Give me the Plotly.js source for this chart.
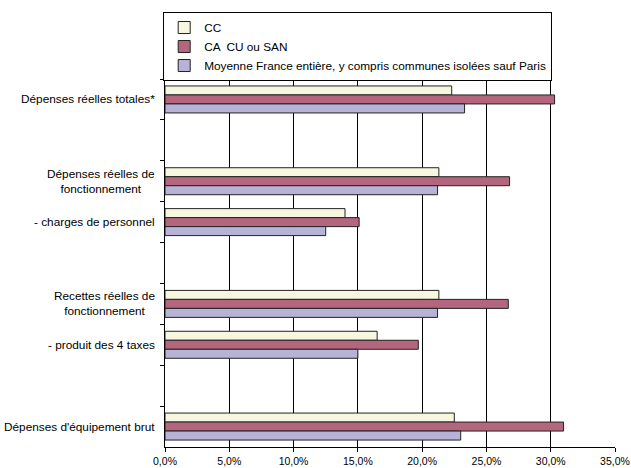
<!DOCTYPE html>
<html>
<head>
<meta charset="utf-8">
<script src="https://cdn.plot.ly/plotly-3.0.1.min.js"></script>
<style>html,body{margin:0;padding:0;background:#fff;}#chart{width:631px;height:468px;}</style>
</head>
<body>
<div id="chart"></div>
<script>
const categories = [
  "Dépenses réelles totales*",
  " ",
  "Dépenses réelles de<br>fonctionnement",
  "- charges de personnel",
  "  ",
  "Recettes réelles de<br>fonctionnement",
  "- produit des 4 taxes",
  "   ",
  "Dépenses d'équipement brut"
];
const seriesNames = ["CC", "CA  CU ou SAN", "Moyenne France entière, y compris communes isolées sauf Paris"];
const valuesCC  = [0.223, null, 0.213, 0.140, null, 0.213, 0.165, null, 0.225];
const valuesCA  = [0.303, null, 0.268, 0.151, null, 0.267, 0.197, null, 0.310];
const valuesMoy = [0.233, null, 0.212, 0.125, null, 0.212, 0.150, null, 0.230];
const xTickValues = [0, 0.05, 0.10, 0.15, 0.20, 0.25, 0.30, 0.35];

const colors = ["#F7F7E1", "#B4667E", "#B7B3D6"];
const seriesValues = [valuesCC, valuesCA, valuesMoy];
const FONT = "'Liberation Sans', Arial, sans-serif";

const traces = seriesValues.map((vals, i) => ({
  type: "bar",
  orientation: "h",
  name: seriesNames[i],
  y: categories,
  x: vals,
  marker: {color: colors[i], line: {color: "#222", width: 1}},
  hoverinfo: "x+name"
}));

const annotations = categories.filter(c => c.trim() !== "").map(c => ({
  xref: "paper", yref: "y", x: 0, y: c,
  xanchor: "right", yanchor: "middle", xshift: -8,
  align: "center", showarrow: false, text: c,
  font: {family: FONT, size: 11.8, color: "#000"}
}));

const layout = {
  width: 631, height: 468,
  margin: {l: 165, r: 16, t: 79, b: 21, autoexpand: false},
  paper_bgcolor: "#fff", plot_bgcolor: "#fff",
  font: {family: FONT, size: 11.8, color: "#000"},
  separators: ", ",
  barmode: "group",
  bargap: 0.34,
  bargroupgap: 0,
  showlegend: true,
  legend: {
    x: -0.004, xanchor: "left", y: 1.182, yanchor: "top",
    bgcolor: "#fff", bordercolor: "#000", borderwidth: 1,
    font: {family: FONT, size: 11.8, color: "#000"},
    traceorder: "normal"
  },
  xaxis: {
    range: [0, 0.35], tickvals: xTickValues, tickformat: ".1%",
    showgrid: true, gridcolor: "#000", gridwidth: 1,
    showline: true, linecolor: "#000", linewidth: 1,
    ticks: "outside", ticklen: 4, tickcolor: "#000",
    tickfont: {family: FONT, size: 10.5, color: "#000"},
    ticklabeloverflow: "allow",
    zeroline: false, automargin: false, fixedrange: true
  },
  yaxis: {
    type: "category", categoryorder: "array", categoryarray: categories,
    autorange: "reversed",
    showticklabels: false, showgrid: false,
    showline: true, linecolor: "#000", linewidth: 1,
    ticks: "outside", ticklen: 4, tickcolor: "#000", tickson: "boundaries",
    zeroline: false, automargin: false, fixedrange: true
  },
  annotations: annotations
};

Plotly.newPlot("chart", traces, layout, {displayModeBar: false, staticPlot: true});
</script>
</body>
</html>
